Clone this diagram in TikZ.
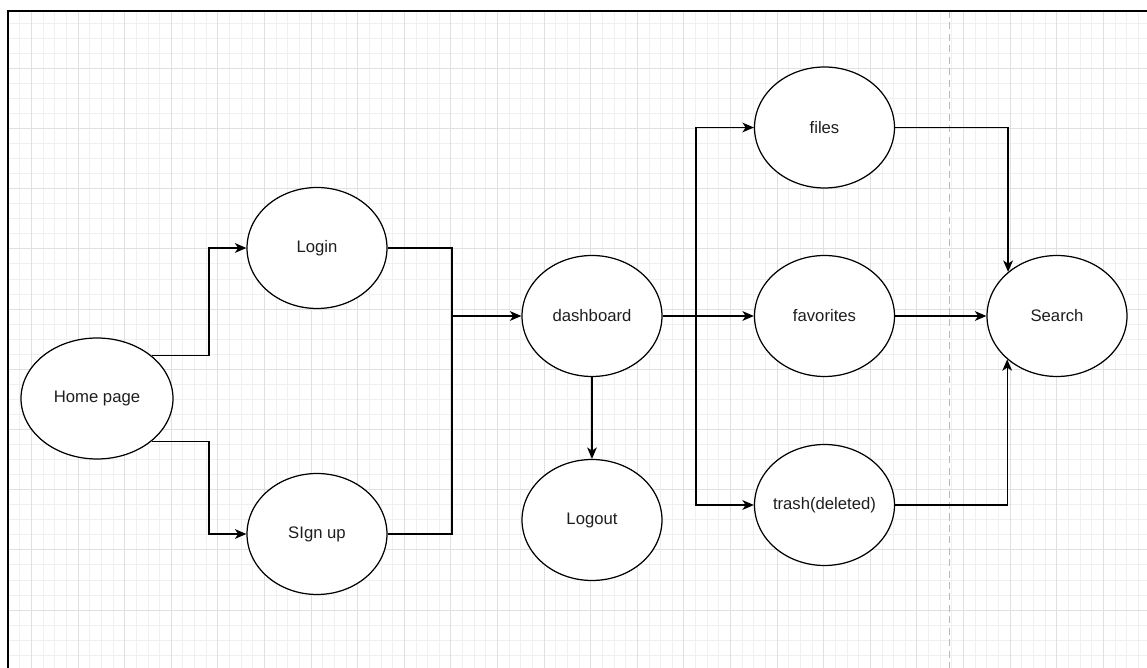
\documentclass[tikz,border=0pt]{standalone}
\usepackage{fontspec}
\setmainfont{Liberation Sans}
\usepackage{tikz}
\usetikzlibrary{arrows.meta,positioning,calc,shapes.geometric}
\definecolor{gdMinor}{RGB}{240,240,240}
\definecolor{gdMajor}{RGB}{224,224,224}
\definecolor{gdDash}{RGB}{185,185,185}
\definecolor{txDark}{RGB}{30,30,30}

\begin{document}
\begin{tikzpicture}[
  x=0.02cm, y=-0.02cm,
  font=\fontsize{9.5}{11}\selectfont,
  state/.style={ellipse, draw=black, line width=0.7pt, fill=white, inner ysep=0pt, inner xsep=-10pt,
    minimum width=2.8cm, minimum height=2.42cm, text=txDark},
  flow/.style={draw=black, line width=0.75pt, -{Stealth[length=6.5pt, width=5.5pt, inset=1.8pt]}},
  link/.style={draw=black, line width=0.75pt},
  gminor/.style={draw=gdMinor, line width=0.4pt},
  gmajor/.style={draw=gdMajor, line width=0.5pt}
]
\useasboundingbox (0,0) rectangle (1147,668);

%============ GRID ============
\foreach \i in {0,...,97}
  \draw[gminor] ({8.1+11.65*\i},11) -- ({8.1+11.65*\i},668);
\foreach \j in {0,...,42}
  \draw[gminor] (8,{23.05+15.05*\j}) -- (1147,{23.05+15.05*\j});
\foreach \i in {0,...,23}
  \draw[gmajor] ({31.4+46.6*\i},11) -- ({31.4+46.6*\i},668);
\foreach \j in {0,...,9}
  \draw[gmajor] (8,{68.2+60.2*\j}) -- (1147,{68.2+60.2*\j});
% page break hint
\draw[gdDash, line width=0.45pt, dash pattern=on 4pt off 2.5pt] (949,11) -- (949,668);
% frame
\draw[black, line width=1.2pt] (8,668) -- (8,11) -- (1147,11);

%============ NODES ============
\node[state, minimum width=3.04cm] (home) at (97,398.5) {Home page};
\node[state] (login) at (317,248) {Login};
\node[state] (signup) at (317,534) {SIgn up};
\node[state] (dash) at (592,316) {dashboard};
\node[state] (logout) at (592,520) {Logout};
\node[state] (files) at (824.5,127.5) {files};
\node[state] (fav) at (824.5,316) {favorites};
\node[state] (trash) at (824.5,505) {trash(deleted)};
\node[state] (search) at (1057,316) {Search};

%============ CONNECTORS ============
\coordinate (hsplit) at (209,398.5);
\coordinate (jmerge) at (452,316);
\coordinate (dsplit) at (696,316);
% home to login / sign up
\draw[flow] (home.38) -| (hsplit |- login.west) -- (login.west);
\draw[flow] (home.-38) -| (hsplit |- signup.west) -- (signup.west);
% login / sign up to dashboard
\draw[link] (login.east) -| (jmerge);
\draw[link] (signup.east) -| (jmerge);
\draw[flow] (jmerge) -- (dash.west);
% dashboard outputs
\draw[flow] (dash.east) -- (fav.west);
\draw[flow] (dsplit) |- (files.west);
\draw[flow] (dsplit) |- (trash.west);
\draw[flow] (dash.south) -- (logout.north);
% into search
\draw[flow] (files.east) -| (search.138.6);
\draw[flow] (fav.east) -- (search.west);
\draw[flow] (trash.east) -| (search.221.4);
\end{tikzpicture}
\end{document}
